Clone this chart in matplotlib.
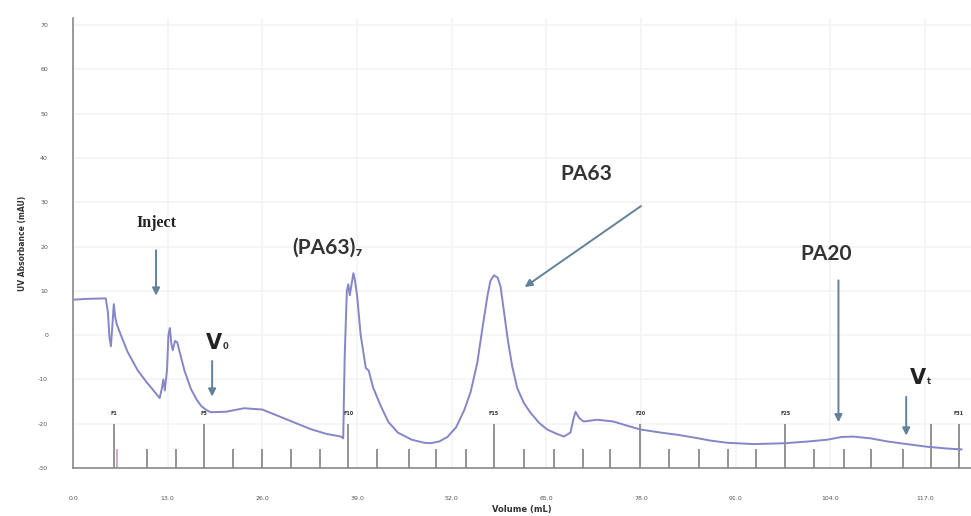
import matplotlib.pyplot as plt

plt.rcParams['axes.unicode_minus'] = False

# chromatogram trace (volume in mL, UV absorbance in mAU)
volume = [0.0, 2.0, 4.5, 4.8, 5.0, 5.2, 5.4, 5.6, 5.8, 6.0, 6.5, 7.5, 8.9, 10.0, 11.0,
          11.9, 12.2, 12.4, 12.6, 12.9, 13.1, 13.3, 13.5, 13.7, 14.0, 14.3, 14.6,
          15.3, 16.2, 17.0, 17.6, 18.3, 18.9, 21.0, 23.5, 26.0, 28.1, 30.5, 32.6, 34.8,
          36.8, 37.1, 37.3, 37.6, 37.8, 38.0, 38.2, 38.5, 38.7, 39.0, 39.5, 40.2,
          40.6, 41.2, 42.2, 43.3, 44.6, 46.5, 48.2, 49.1, 50.3, 51.4, 52.6, 53.7,
          54.6, 55.5, 56.3, 56.9, 57.3, 57.8, 58.3, 58.7, 59.2, 59.7, 60.3, 61.0,
          61.9, 62.8, 64.0, 65.1, 66.3, 67.4, 68.3, 68.7, 69.0, 69.5, 70.1, 72.0,
          74.2, 76.0, 77.9, 80.7, 83.0, 85.2, 87.5, 89.8, 93.5, 97.8, 101.0, 103.6,
          105.5, 107.1, 109.5, 111.8, 114.5, 117.3, 120.0, 122.0]
absorbance = [8.0, 8.2, 8.3, 5.0, -0.5, -2.5, 2.0, 7.0, 4.0, 2.5, 0.3, -3.8, -8.0, -10.4, -12.4,
              -14.2, -12.0, -10.0, -12.5, -8.0, 0.0, 1.6, -2.0, -3.4, -1.3, -1.6, -3.5,
              -8.0, -12.2, -14.6, -16.0, -16.9, -17.4, -17.3, -16.5, -16.8, -18.2, -19.8, -21.2, -22.3,
              -22.9, -23.3, -5.0, 10.0, 11.5, 9.0, 11.0, 14.0, 12.5, 9.0, 0.0, -7.4,
              -8.0, -11.8, -15.8, -19.6, -22.0, -23.6, -24.3, -24.4, -24.0, -23.0, -20.8, -17.0,
              -12.8, -6.3, 2.5, 8.8, 12.2, 13.5, 13.0, 11.0, 5.0, -1.1, -7.0, -12.0,
              -15.3, -17.5, -19.8, -21.3, -22.2, -22.9, -22.0, -19.0, -17.3, -18.7, -19.5, -19.1,
              -19.5, -20.4, -21.3, -22.0, -22.5, -23.1, -23.8, -24.3, -24.6, -24.4, -24.0, -23.6,
              -23.0, -22.9, -23.3, -24.0, -24.6, -25.2, -25.6, -25.8]

# fraction collector marks
frac_major = [5.6, 18.0, 37.8, 57.8, 77.9, 97.8, 117.8, 121.6]
frac_minor = [10.2, 14.1, 21.9, 26.0, 29.9, 33.9, 41.8, 46.2, 49.9, 53.9, 61.9, 66.0,
              70.0, 73.8, 81.8, 85.9, 90.0, 93.8, 101.8, 105.8, 109.6, 113.9]
frac_labels = {5.6: 'F1', 18.0: 'F5', 37.8: 'F10', 57.8: 'F15', 77.9: 'F20',
               97.8: 'F25', 121.6: 'F31'}

xticks = [0, 13, 26, 39, 52, 65, 78, 91, 104, 117]
yticks = [-30, -20, -10, 0, 10, 20, 30, 40, 50, 60, 70]

fig = plt.figure(figsize=(9.71, 5.16), dpi=100)
ax = fig.add_axes([0.0752, 0.093, 0.9248, 0.872])

ax.set_xlim(0, 123.3)
ax.set_ylim(-30, 71.6)
ax.set_xticks(xticks)
ax.set_xticklabels(['%.1f' % v for v in xticks])
ax.set_yticks(yticks)
ax.tick_params(length=0, labelsize=4.5, labelcolor='#555555', pad=18)
ax.tick_params(axis='x', pad=20)
ax.grid(True, color='#f3f3f3', lw=1.2)
ax.set_axisbelow(True)
for s in ['top', 'right']:
    ax.spines[s].set_visible(False)
for s in ['left', 'bottom']:
    ax.spines[s].set_color('#8a8a8a')
    ax.spines[s].set_linewidth(1.2)

ax.set_ylabel('UV Absorbance (mAU)', fontsize=5.5, fontweight='bold', color='#333333', labelpad=8)
ax.set_xlabel('Volume (mL)', fontsize=6, fontweight='bold', color='#333333')
ax.xaxis.set_label_coords(0.5, -0.082)

# fraction lines
ax.vlines(frac_major, -30, -20, color='#8a8a8a', lw=1.3)
ax.vlines(frac_minor, -30, -25.6, color='#8a8a8a', lw=1.3)
ax.vlines([6.0], -30, -25.6, color='#c9a6c9', lw=1.3)
for v, lab in frac_labels.items():
    ax.text(v, -17.6, lab, fontsize=3.5, ha='center', va='center', color='#333333', fontweight='bold')

ax.plot(volume, absorbance, color='#8585c8', lw=1.4)

arrow = dict(arrowstyle='-|>', color='#62829a', lw=1.4, mutation_scale=11)

ax.text(11.4, 25.4, 'Inject', fontsize=11.5, fontweight='bold', family='Liberation Serif',
        ha='center', va='center', color='#222222')
ax.annotate('', xy=(11.4, 8.3), xytext=(11.4, 19.8), arrowprops=arrow)

ax.text(19.4, -1.8, 'V', fontsize=15, fontweight='bold', family='DejaVu Sans',
        ha='center', va='center', color='#222222')
ax.text(20.6, -2.6, '0', fontsize=6, fontweight='bold', family='DejaVu Sans',
        ha='left', va='center', color='#333333')
ax.annotate('', xy=(19.1, -14.5), xytext=(19.1, -5.2), arrowprops=arrow)

ax.text(35.0, 19.8, '(PA63)\u2087', fontsize=15, fontweight='bold', family='Lato',
        ha='center', va='center', color='#333333')

ax.text(70.5, 36.4, 'PA63', fontsize=15, fontweight='bold', family='Lato',
        ha='center', va='center', color='#333333')
ax.annotate('', xy=(61.7, 10.5), xytext=(78.3, 29.5), arrowprops=arrow)

ax.text(103.4, 18.4, 'PA20', fontsize=15, fontweight='bold', family='Lato',
        ha='center', va='center', color='#333333')
ax.annotate('', xy=(105.1, -20.3), xytext=(105.1, 13.0), arrowprops=arrow)

ax.text(116.0, -9.7, 'V', fontsize=15, fontweight='bold', family='DejaVu Sans',
        ha='center', va='center', color='#222222')
ax.text(117.2, -10.5, 't', fontsize=6, fontweight='bold', family='DejaVu Sans',
        ha='left', va='center', color='#333333')
ax.annotate('', xy=(114.4, -23.3), xytext=(114.4, -13.3), arrowprops=arrow)

fig.savefig('out.png', dpi=100)
